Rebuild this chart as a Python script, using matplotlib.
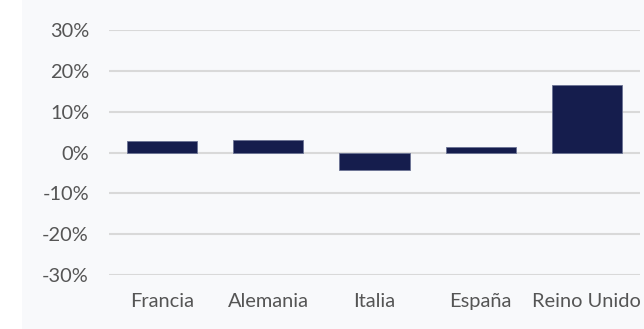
import matplotlib.pyplot as plt
from matplotlib.ticker import FuncFormatter

# country labels and % change values
countries = ['Francia', 'Alemania', 'Italia', 'España', 'Reino Unido']
values = [2.7, 3.1, -4.2, 1.4, 16.5]
yticks = [-30, -20, -10, 0, 10, 20, 30]

plt.rcParams['font.family'] = ['Lato', 'DejaVu Sans']

fig = plt.figure(figsize=(6.44, 3.29), dpi=100)
fig.patch.set_facecolor('white')

# light panel behind the chart
bg = fig.add_axes([22 / 644, 0, 1 - 22 / 644, 1], zorder=-1)
bg.set_facecolor('#f8f9fb')
bg.set_xticks([])
bg.set_yticks([])
for s in bg.spines.values():
    s.set_visible(False)

ax = fig.add_axes([109 / 644, (329 - 275) / 329, (640 - 109) / 644, (275 - 30) / 329])
ax.set_facecolor('none')

pos = list(range(len(countries)))
ax.bar(pos, values, width=0.66, color='#151d4d', edgecolor='#6b7394', linewidth=0.6, zorder=3)

ax.set_xlim(-0.5, 4.5)
ax.set_ylim(-30, 30)
ax.set_yticks(yticks)
ax.yaxis.set_major_formatter(FuncFormatter(lambda v, p: '%d%%' % v))
ax.set_xticks(pos)
ax.set_xticklabels(countries)

ax.grid(axis='y', color='#d9d9d9', linewidth=1.5, zorder=0)
for s in ax.spines.values():
    s.set_visible(False)
ax.tick_params(axis='both', length=0, labelsize=14.4, labelcolor='#555555')
ax.tick_params(axis='y', pad=14.4)
ax.tick_params(axis='x', pad=13)

fig.savefig('out.png', dpi=100)
